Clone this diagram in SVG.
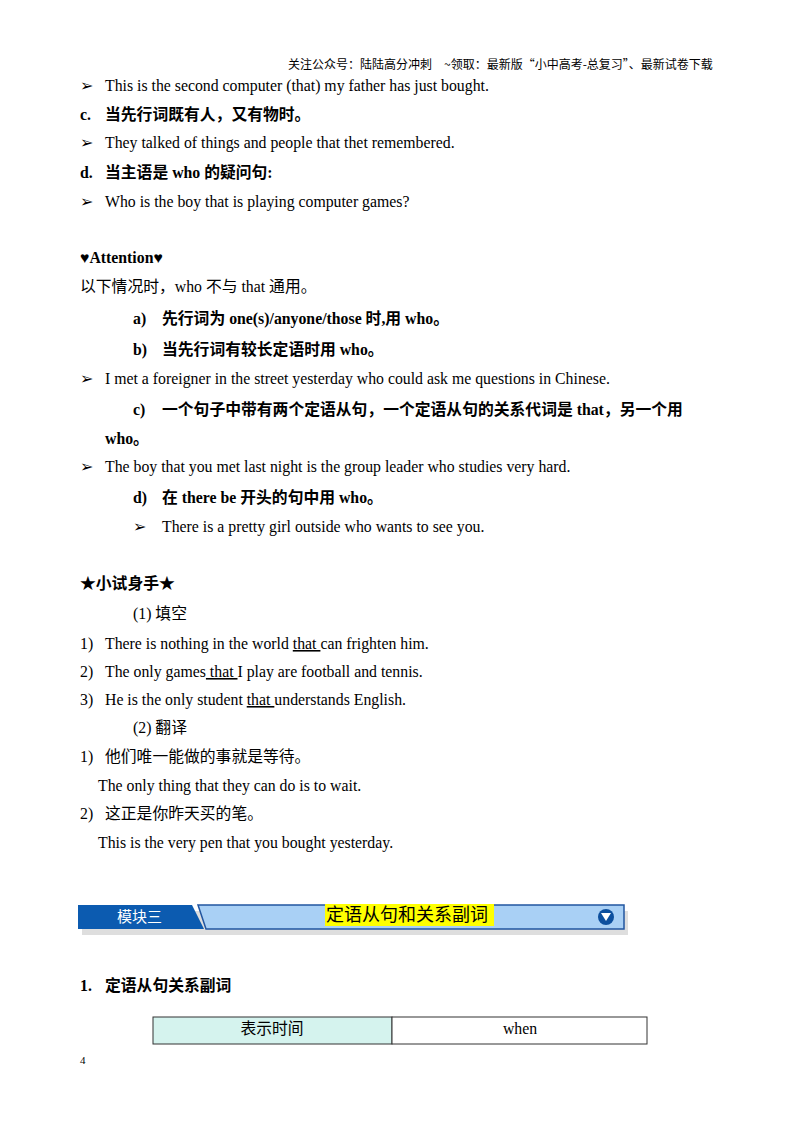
<svg xmlns="http://www.w3.org/2000/svg" width="800" height="1132" viewBox="0 0 800 1132">
<style>
text{font-family:"Liberation Serif","Noto Sans CJK SC",serif;font-size:15.8px;fill:#000}
.b{font-weight:bold}
.h{font-family:"Noto Sans CJK SC",sans-serif;font-size:12px}
.u{text-decoration:underline}
</style>
<rect width="800" height="1132" fill="#fff"/>
<text class="h" x="288" y="69">关注公众号：陆陆高分冲刺　~领取：最新版“小中高考-总复习”、最新试卷下载</text>
<text x="80" y="91">➢</text><text x="105" y="91">This is the second computer (that) my father has just bought.</text>
<text class="b" x="80" y="120">c.</text><text class="b" x="105" y="120">当先行词既有人，又有物时。</text>
<text x="80" y="148">➢</text><text x="105" y="148">They talked of things and people that thet remembered.</text>
<text class="b" x="80" y="178">d.</text><text class="b" x="105" y="178">当主语是  who  的疑问句:</text>
<text x="80" y="207">➢</text><text x="105" y="207">Who is the boy that is playing computer games?</text>
<text class="b" x="80" y="263">♥Attention♥</text>
<text x="80" y="292">以下情况时，who 不与 that 通用。</text>
<text class="b" x="133" y="324">a)</text><text class="b" x="162" y="324">先行词为 one(s)/anyone/those 时,用 who。</text>
<text class="b" x="133" y="355">b)</text><text class="b" x="162" y="355">当先行词有较长定语时用 who。</text>
<text x="80" y="384">➢</text><text x="105" y="384">I met a foreigner in the street yesterday who could ask me questions in Chinese.</text>
<text class="b" x="133" y="415">c)</text><text class="b" x="162" y="415">一个句子中带有两个定语从句，一个定语从句的关系代词是  that，另一个用</text>
<text class="b" x="105" y="444">who。</text>
<text x="80" y="472">➢</text><text x="105" y="472">The boy that you met last night is the group leader who studies very hard.</text>
<text class="b" x="133" y="503">d)</text><text class="b" x="162" y="503">在 there be 开头的句中用 who。</text>
<text x="133" y="532">➢</text><text x="162" y="532">There is a pretty girl outside who wants to see you.</text>
<text class="b" x="80" y="589">★小试身手★</text>
<text x="133" y="619">(1)  填空</text>
<text x="80" y="649">1)</text><text x="105" y="649">There is nothing in the world  <tspan class="u">that </tspan>can frighten him.</text>
<text x="80" y="677">2)</text><text x="105" y="677">The only games<tspan class="u"> that </tspan> I play are football and tennis.</text>
<text x="80" y="705">3)</text><text x="105" y="705">He is the only student  <tspan class="u">that </tspan>understands English.</text>
<text x="133" y="733">(2)  翻译</text>
<text x="80" y="762">1)</text><text x="105" y="762">他们唯一能做的事就是等待。</text>
<text x="98" y="791">The only thing that they can do is to wait.</text>
<text x="80" y="819">2)</text><text x="105" y="819">这正是你昨天买的笔。</text>
<text x="98" y="848">This is the very pen that you bought yesterday.</text>
<g id="banner">
<rect x="82" y="911" width="546" height="24" fill="#c8c8c8" opacity="0.6"/>
<polygon points="198,905 624,905 624,929 206,929" fill="#a9d0f5" stroke="#2255a0" stroke-width="1.5"/>
<polygon points="78,905 192,905 204,929 78,929" fill="#0c5bb0"/>
<text x="117" y="922" style="font-family:'Noto Sans CJK SC',sans-serif;font-size:15px;fill:#fff">模块三</text>
<rect x="325" y="904" width="169" height="22" fill="#ffff00"/>
<text x="326" y="921" style="font-family:'Noto Sans CJK SC',sans-serif;font-size:18px">定语从句和关系副词</text>
<circle cx="606" cy="917" r="8" fill="#0c4f9e"/>
<polygon points="601,913 611,913 606,921" fill="#fff"/>
</g>
<text class="b" x="80" y="991">1.</text><text class="b" x="105" y="991">定语从句关系副词</text>
<g id="table">
<rect x="153" y="1017" width="239" height="27" fill="#d5f3ee" stroke="#333"/>
<rect x="392" y="1017" width="255" height="27" fill="#fff" stroke="#333"/>
<text x="272" y="1034" text-anchor="middle">表示时间</text>
<text x="520" y="1034" text-anchor="middle">when</text>
</g>
<text x="80" y="1064" style="font-size:11px">4</text>
</svg>
